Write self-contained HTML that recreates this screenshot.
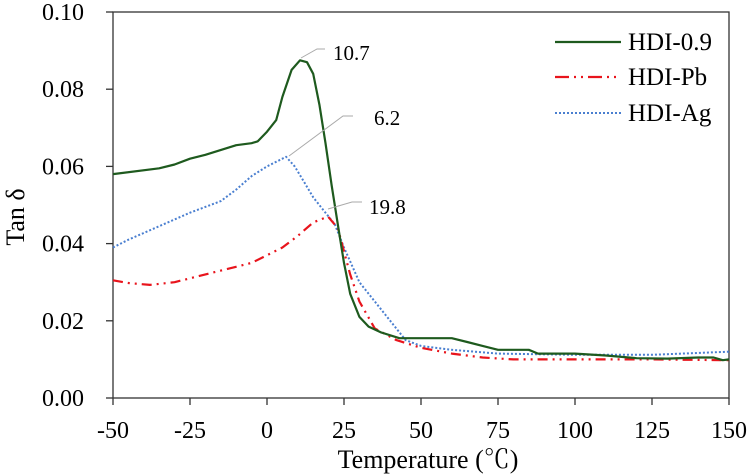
<!DOCTYPE html>
<html><head><meta charset="utf-8"><style>
html,body{margin:0;padding:0;background:#fff;}
svg{display:block;font-family:"Liberation Serif","Noto Serif CJK SC",serif;}
</style></head><body>
<svg id="chart" width="755" height="476" viewBox="0 0 755 476" xmlns="http://www.w3.org/2000/svg">
<rect x="113" y="12" width="616" height="386" fill="none" stroke="#333" stroke-width="1.3"/>
<g id="axes"></g>
<g id="series"></g>
<text x="24" y="217" font-size="26" text-anchor="middle" transform="rotate(-90 24 217)">Tan δ</text>
<text x="428" y="468" font-size="26" text-anchor="middle">Temperature (℃)</text>
<g>
<line x1="555" y1="42" x2="621" y2="42" stroke="#1e5a1e" stroke-width="2.2"/>
<text x="628" y="50" font-size="25">HDI-0.9</text>
<line x1="555" y1="77" x2="621" y2="77" stroke="#e8141c" stroke-width="2.2" stroke-dasharray="14,5,2,5,2,5"/>
<text x="628" y="85" font-size="25">HDI-Pb</text>
<line x1="555" y1="113" x2="621" y2="113" stroke="#4a7fd0" stroke-width="2" stroke-dasharray="2,2"/>
<text x="628" y="121" font-size="25">HDI-Ag</text>
</g>
<g font-size="21">
<polyline points="301,58 317,49 325,49" fill="none" stroke="#aaa" stroke-width="1"/>
<text x="333" y="60">10.7</text>
<polyline points="289,156 343,116 353,116" fill="none" stroke="#aaa" stroke-width="1"/>
<text x="374" y="125">6.2</text>
<polyline points="328,209 352,202 362,202" fill="none" stroke="#aaa" stroke-width="1"/>
<text x="369" y="214">19.8</text>
</g>
</svg>
<script>
const xTicks = [-50,-25,0,25,50,75,100,125,150];
const yTicks = [0,0.02,0.04,0.06,0.08,0.10];
const yTickLabels = ["0.00","0.02","0.04","0.06","0.08","0.10"];
const greenT = [-50,-35,-30,-25,-20,-10,-5,-3,0,3,5,8,10.7,13,15,17,19,21,23,25,27,30,33,37,43,50,60,65,70,75,85,88,100,110,120,130,140,145,148,150];
const greenV = [0.058,0.0595,0.0605,0.062,0.063,0.0655,0.066,0.0665,0.069,0.072,0.078,0.085,0.0875,0.087,0.084,0.076,0.066,0.055,0.045,0.035,0.027,0.021,0.0185,0.017,0.0155,0.0155,0.0155,0.0145,0.0135,0.0125,0.0125,0.0115,0.0115,0.011,0.0103,0.0102,0.0105,0.0105,0.0098,0.01];
const blueT = [-50,-45,-35,-25,-15,-10,-5,0,3,6.2,9,12,15,18,22,25,30,35,40,45,50,60,75,100,125,150];
const blueV = [0.039,0.041,0.0445,0.048,0.051,0.054,0.0575,0.060,0.0612,0.0625,0.060,0.056,0.052,0.049,0.045,0.039,0.030,0.025,0.020,0.015,0.0135,0.0125,0.0115,0.0112,0.0112,0.012];
const redT = [-50,-45,-38,-30,-25,-15,-5,0,5,10,15,19.8,23,25,27,30,35,42,50,60,70,80,100,125,150];
const redV = [0.0305,0.0298,0.0293,0.030,0.031,0.033,0.035,0.037,0.039,0.042,0.0455,0.047,0.044,0.038,0.032,0.025,0.018,0.015,0.013,0.0115,0.0105,0.010,0.010,0.010,0.0098];

const NS = "http://www.w3.org/2000/svg";
const X0=113, X1=729, Y0=398, Y1=12;
function xs(t){return X0+(t+50)/200*(X1-X0);}
function ys(v){return Y0-v/0.10*(Y0-Y1);}
const axes=document.getElementById('axes');
xTicks.forEach(t=>{
  const l=document.createElementNS(NS,'line');
  l.setAttribute('x1',xs(t));l.setAttribute('x2',xs(t));l.setAttribute('y1',Y0);l.setAttribute('y2',Y0+7);
  l.setAttribute('stroke','#333');l.setAttribute('stroke-width','1.3');
  
  
  axes.appendChild(l);
  const tx=document.createElementNS(NS,'text');
  tx.setAttribute('x',xs(t));tx.setAttribute('y',438);tx.setAttribute('font-size','24');tx.setAttribute('text-anchor','middle');
  tx.textContent=String(t);
  
  
  axes.appendChild(tx);
});
yTicks.forEach((v,i)=>{
  const l=document.createElementNS(NS,'line');
  l.setAttribute('x1',X0-7);l.setAttribute('x2',X0);l.setAttribute('y1',ys(v));l.setAttribute('y2',ys(v));
  l.setAttribute('stroke','#333');l.setAttribute('stroke-width','1.3');
  
  
  axes.appendChild(l);
  const tx=document.createElementNS(NS,'text');
  tx.setAttribute('x',84);tx.setAttribute('y',ys(v)+8);tx.setAttribute('font-size','24');tx.setAttribute('text-anchor','end');
  tx.textContent=yTickLabels[i];
  
  
  axes.appendChild(tx);
});
const series=document.getElementById('series');
function draw(T,V,color,dash,w,name){
  const p=document.createElementNS(NS,'polyline');
  p.setAttribute('points',T.map((t,i)=>xs(t).toFixed(1)+','+ys(V[i]).toFixed(1)).join(' '));
  p.setAttribute('fill','none');p.setAttribute('stroke',color);p.setAttribute('stroke-width',w);
  p.setAttribute('stroke-linejoin','round');
  if(dash)p.setAttribute('stroke-dasharray',dash);
  
  
  series.appendChild(p);
}
draw(blueT,blueV,'#4a7fd0','2,2',2,'series-hdi-ag');
draw(redT,redV,'#e8141c','10,5,2,5,2,5',2.2,'series-hdi-pb');
draw(greenT,greenV,'#1e5a1e',null,2.2,'series-hdi-09');
</script>
</body></html>
